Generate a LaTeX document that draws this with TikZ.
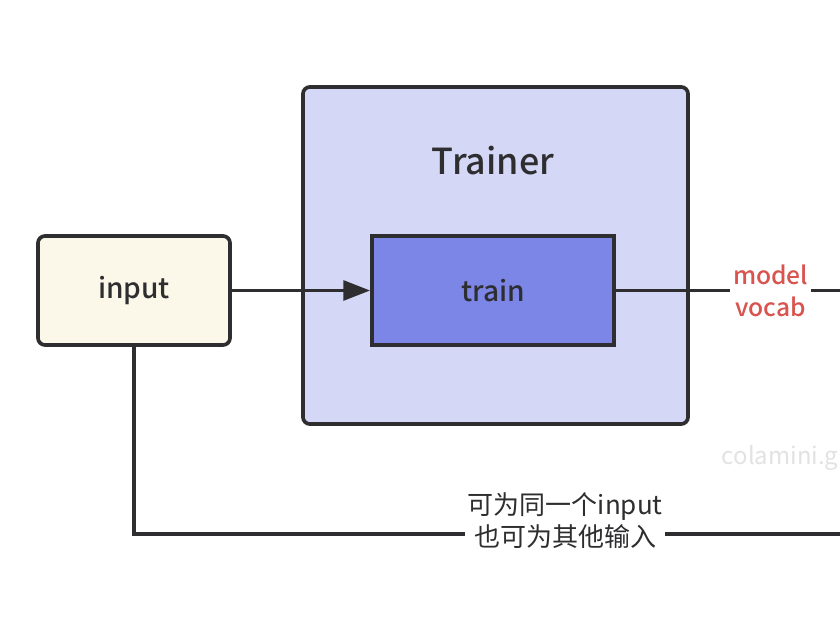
\documentclass[tikz,border=0pt]{standalone}
\usepackage{fontspec}
\setmainfont{Noto Sans CJK SC}
\newfontfamily\medfont{Noto Sans CJK SC Medium}
\usetikzlibrary{arrows.meta}
\definecolor{linedark}{HTML}{2E2E30}
\definecolor{trainerbg}{HTML}{D5D7F6}
\definecolor{trainbg}{HTML}{7B86E6}
\definecolor{inputbg}{HTML}{FBF8EA}
\definecolor{notered}{HTML}{D9534F}
\definecolor{markgray}{HTML}{E2E2E2}
\begin{document}
\begin{tikzpicture}[x=0.025cm,y=-0.025cm]
\tikzstyle{box}=[draw=linedark, line width=2.6pt, inner sep=0pt, text=linedark]
\tikzstyle{wire}=[draw=linedark, line width=2.6pt]
\tikzstyle{note}=[fill=white, inner sep=2pt, align=center]
\useasboundingbox (0,0) rectangle (840,624);
\clip (0,0) rectangle (840,624);
\node [box, rounded corners=5pt, fill=trainerbg, minimum width=9.625cm, minimum height=8.425cm] (trainer) at (495.5,255.5) {};
\node [text=linedark, font=\fontsize{25.5}{30}\medfont] (trainertitle) at (493,161) {Trainer};
\node [box, fill=trainbg, minimum width=6.05cm, minimum height=2.725cm, font=\fontsize{20}{24}\medfont] (train) at (493,290.5) {train};
\node [box, rounded corners=5pt, fill=inputbg, minimum width=4.8cm, minimum height=2.725cm, font=\fontsize{20}{24}\medfont] (input) at (134,290.5) {input};
\node [text=markgray, anchor=west, font=\fontsize{17}{20}\selectfont] (mark) at (717,458) {colamini.github.io};
\coordinate (modelout) at (860,290.5);
\coordinate (otherout) at (860,534);
\draw [wire, -{Triangle[length=19pt, width=14pt]}] (input) -- (train);
\draw [wire] (train) -- node [note, pos=0.634, text=notered, font=\fontsize{17.5}{22.7}\medfont] (outlabel) {model\\vocab} (modelout);
\draw [wire] (input) |- node [note, pos=0.797, yshift=0.33cm, text=linedark, font=\fontsize{18.5}{22.7}\selectfont] (inlabel) {可为同一个input\\也可为其他输入} (otherout);
\end{tikzpicture}
\end{document}
